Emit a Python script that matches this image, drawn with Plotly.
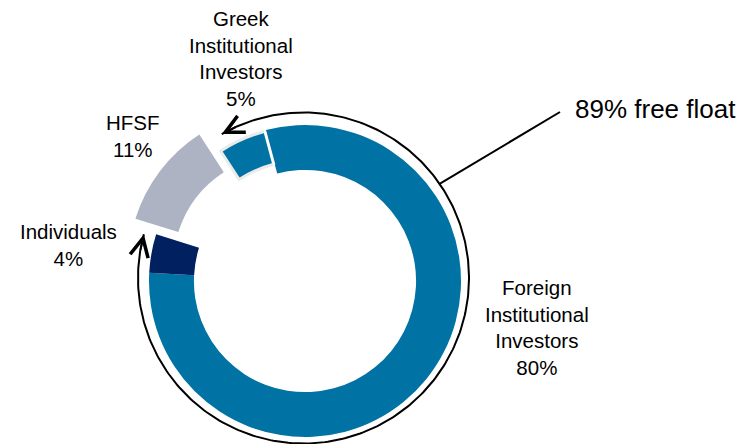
import numpy as np
import plotly.graph_objects as go

# ---------------- data ----------------
categories = ["Foreign Institutional Investors", "Individuals", "HFSF", "Greek Institutional Investors"]
label_lines = [["Foreign", "Institutional", "Investors"], ["Individuals"], ["HFSF"],
               ["Greek", "Institutional", "Investors"]]
shares = [80, 4, 11, 5]
free_float_members = ["Foreign Institutional Investors", "Individuals", "Greek Institutional Investors"]
free_float = sum(s for c, s in zip(categories, shares) if c in free_float_members)

# ---------------- layout constants ----------------
W, H = 741, 444
CX, CY = 305, 281          # donut centre (px)
R_OUT = 156                # outer radius (px)
HOLE = 0.712
ROT = -15                  # first slice starts at 345 deg (clockwise from 12 o'clock)
HFSF_PULL_PX = 26
GREEK_R = 155
GREEK_HOLE = 0.78

BLUE = "#0073A4"
NAVY = "#002060"
GREY = "#ADB3C3"
CLEAR = "rgba(0,0,0,0)"
FONT = "Liberation Sans"


def dom(cx, cy, r):
    return dict(x=[(cx - r) / W, (cx + r) / W], y=[1 - (cy + r) / H, 1 - (cy - r) / H])


def pt(cx, cy, r, ang):
    a = np.deg2rad(ang)
    return cx + r * np.sin(a), cy - r * np.cos(a)


total = sum(shares)
starts = ROT + 360 * np.concatenate([[0], np.cumsum(shares)[:-1]]) / total
mids = starts + 180 * np.array(shares) / total
i_hfsf = categories.index("HFSF")
i_greek = categories.index("Greek Institutional Investors")

fig = go.Figure()

# main ring
main_colors = [BLUE, NAVY, CLEAR, CLEAR]
fig.add_trace(go.Pie(values=shares, labels=categories, sort=False, direction="clockwise",
                     rotation=ROT, hole=HOLE, marker=dict(colors=main_colors, line=dict(width=0)),
                     textinfo="none", hoverinfo="skip", showlegend=False,
                     domain=dom(CX, CY, R_OUT)))

# HFSF exploded slice
hx, hy = pt(0, 0, HFSF_PULL_PX, mids[i_hfsf])
hf_colors = [CLEAR] * len(shares)
hf_colors[i_hfsf] = GREY
fig.add_trace(go.Pie(values=shares, labels=categories, sort=False, direction="clockwise",
                     rotation=ROT, hole=HOLE, marker=dict(colors=hf_colors, line=dict(width=0)),
                     textinfo="none", hoverinfo="skip", showlegend=False,
                     domain=dom(CX + hx, CY + hy, R_OUT)))

# Greek slice (thinner, outlined)
gr_colors = [CLEAR] * len(shares)
gr_colors[i_greek] = BLUE
gr_lw = [0] * len(shares)
gr_lw[i_greek] = 3
fig.add_trace(go.Pie(values=shares, labels=categories, sort=False, direction="clockwise",
                     rotation=ROT, hole=GREEK_HOLE,
                     marker=dict(colors=gr_colors, line=dict(width=gr_lw, color="#EBEBEB")),
                     textinfo="none", hoverinfo="skip", showlegend=False,
                     domain=dom(CX, CY, GREEK_R)))

# arc around the free-float part
ACX, ACY, AR = 303.5, 278, 165.5
a0, a1 = 330.4, 645.3
angs = np.linspace(a0, a1, 300)
ax_, ay_ = pt(ACX, ACY, AR, angs)
fig.add_trace(go.Scatter(x=ax_, y=ay_, mode="lines", line=dict(color="black", width=2),
                         hoverinfo="skip", showlegend=False))

annotations = []
for tip, tail in [(a0, a0 + 6), (a1, a1 - 6)]:
    tx, ty = pt(ACX, ACY, AR, tip)
    sx, sy = pt(ACX, ACY, AR, tail)
    annotations.append(dict(x=tx, y=ty, ax=sx, ay=sy, xref="x", yref="y", axref="x", ayref="y",
                            text="", showarrow=True, arrowhead=5, arrowsize=2.0, arrowwidth=1.8,
                            arrowcolor="black", standoff=0))

# leader line
lx0, ly0 = pt(ACX, ACY, AR, 55.3)
shapes = [dict(type="line", xref="x", yref="y", x0=lx0, y0=ly0, x1=560, y1=112,
               line=dict(color="black", width=2))]
# white separator between Greek and Foreign slices
sx0, sy0 = pt(CX, CY, R_OUT * HOLE - 1, starts[0])
sx1, sy1 = pt(CX, CY, R_OUT + 1, starts[0])
shapes.append(dict(type="line", xref="x", yref="y", x0=sx0, y0=sy0, x1=sx1, y1=sy1,
                   line=dict(color="white", width=2), layer="above"))

# slice labels
label_pos = {
    "Foreign Institutional Investors": (537, 327),
    "Individuals": (68, 245),
    "HFSF": (133, 136),
    "Greek Institutional Investors": (241, 58),
}
for c, lines, s in zip(categories, label_lines, shares):
    x, y = label_pos[c]
    annotations.append(dict(x=x, y=y, xref="x", yref="y", text="<br>".join(lines + [f"{s}%"]),
                            showarrow=False, xanchor="center", yanchor="middle",
                            font=dict(family=FONT, size=20.5, color="black")))

annotations.append(dict(x=573, y=109, xref="x", yref="y", text=f"{free_float}% free float",
                        showarrow=False, xanchor="left", yanchor="middle",
                        font=dict(family=FONT, size=26, color="black")))

fig.update_layout(
    width=W, height=H, margin=dict(l=0, r=0, t=0, b=0),
    paper_bgcolor="white", plot_bgcolor="rgba(0,0,0,0)",
    font=dict(family=FONT),
    xaxis=dict(range=[0, W], visible=False, domain=[0, 1], fixedrange=True),
    yaxis=dict(range=[H, 0], visible=False, domain=[0, 1], fixedrange=True),
    annotations=annotations, shapes=shapes,
)

fig.write_html("out.html", config={"displayModeBar": False},
               post_script="document.body.style.margin='0';document.body.style.overflow='hidden';")
